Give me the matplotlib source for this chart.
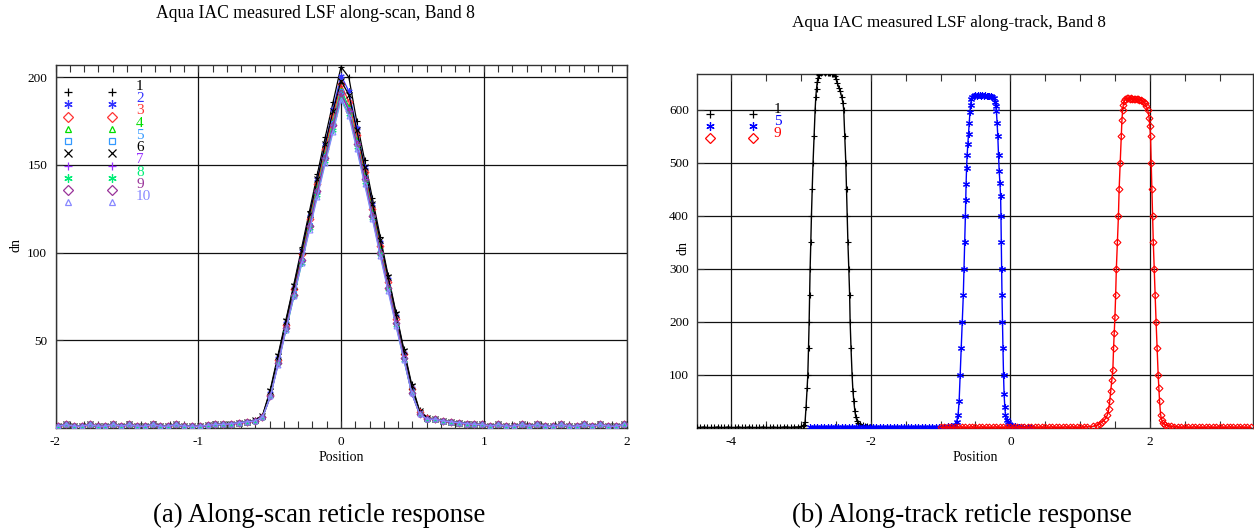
import numpy as np
import matplotlib
matplotlib.use("Agg")
import matplotlib.pyplot as plt
from matplotlib.ticker import MultipleLocator, FixedLocator

plt.rcParams['font.family'] = ['Liberation Serif', 'DejaVu Serif']

# ---------------- Panel (a): along-scan LSF, 10 detectors ----------------
scan_x_core = [-0.605, -0.55, -0.495, -0.44, -0.385, -0.33, -0.275, -0.22, -0.165, -0.11, -0.055, 0.0,
               0.055, 0.11, 0.165, 0.22, 0.275, 0.33, 0.385, 0.44, 0.495, 0.55, 0.605]
scan_x_left_tail = [-1.98, -1.925, -1.87, -1.815, -1.76, -1.705, -1.65, -1.595, -1.54, -1.485, -1.43, -1.375,
                    -1.32, -1.265, -1.21, -1.155, -1.10, -1.045, -0.99, -0.935, -0.88, -0.825, -0.77, -0.715, -0.66]
scan_y_left_tail = [1, 2, 1, 1, 2, 1, 1, 2, 1, 2, 1, 1, 2, 1, 1, 2, 1, 1, 1, 1.5, 2, 2, 2.5, 3, 3.5]
scan_x_right_tail = [0.66, 0.715, 0.77, 0.825, 0.88, 0.935, 0.99, 1.045, 1.10, 1.155, 1.21, 1.265, 1.32, 1.375,
                     1.43, 1.485, 1.54, 1.595, 1.65, 1.705, 1.76, 1.815, 1.87, 1.925, 1.98]
scan_y_right_tail = [5, 4, 3.5, 3, 2.5, 2, 2, 1, 2, 1, 1, 2, 1, 2, 1, 1, 2, 1, 1, 2, 1, 2, 1, 1, 2]

scan_cores = {
    '1':  [4.5, 7, 22, 42, 62, 82, 103, 124, 145, 166, 186, 206, 200, 175, 153, 131, 109, 87, 66, 45, 25, 10, 6],
    '2':  [4, 6.5, 20, 40, 60, 80, 101, 121, 142, 162, 182, 201, 192, 171, 149, 128, 106, 85, 64, 43, 23, 9, 5.5],
    '3':  [4, 6.5, 19, 39, 59, 79, 99, 119, 139, 159, 178, 196, 186, 167, 146, 125, 104, 83, 62, 42, 22, 9, 5.5],
    '4':  [4, 6, 19, 38, 58, 77, 97, 117, 137, 156, 175, 193, 183, 164, 144, 123, 102, 81, 61, 41, 21, 8.5, 5],
    '5':  [4, 6, 18, 38, 57, 77, 96, 116, 136, 155, 174, 192, 182, 163, 143, 122, 101, 81, 60, 40, 21, 8.5, 5],
    '6':  [4.5, 7, 21, 41, 61, 81, 101, 122, 142, 162, 181, 198, 190, 170, 149, 128, 107, 86, 65, 44, 24, 9.5, 5.5],
    '7':  [4, 6, 18, 37, 57, 76, 95, 115, 134, 153, 172, 190, 181, 162, 142, 121, 100, 80, 60, 40, 20, 8, 5],
    '8':  [4, 6, 18, 37, 56, 75, 94, 114, 133, 152, 170, 188, 179, 160, 140, 120, 99, 79, 59, 39, 20, 8, 5],
    '9':  [4, 6, 18, 37, 57, 76, 96, 115, 135, 154, 173, 191, 181, 162, 142, 121, 100, 80, 60, 40, 20, 8, 5],
    '10': [4, 6, 18, 36, 56, 75, 94, 113, 132, 151, 169, 187, 178, 159, 139, 119, 98, 78, 58, 39, 20, 8, 5],
}
scan_labels = ['1', '2', '3', '4', '5', '6', '7', '8', '9', '10']
scan_colors = ['#000000', '#3333ff', '#ff3333', '#00dd00', '#3399ff', '#000000',
               '#9933ff', '#00ee77', '#993399', '#8888ff']
ASTER = (6, 2, 0)
scan_markers = ['+', ASTER, 'D', '^', 's', 'x', '+', ASTER, 'D', '^']

# ---------------- Panel (b): along-track LSF, detectors 1, 5, 9 ----------------
track_labels = ['1', '5', '9']
track_colors = ['#000000', '#0000ff', '#ff0000']
track_markers = ['+', ASTER, 'D']

track1_x = [-4.5, -4.45, -4.4, -4.35, -4.3, -4.25, -4.2, -4.15, -4.1, -4.05, -4.0, -3.95, -3.9, -3.85,
            -3.8, -3.75, -3.7, -3.65, -3.6, -3.55, -3.5, -3.45, -3.4, -3.35, -3.3, -3.25, -3.2, -3.15,
            -3.1, -3.05, -3.0,
            -2.98, -2.96, -2.944, -2.93, -2.915, -2.905, -2.895, -2.886, -2.879, -2.872, -2.862, -2.853,
            -2.842, -2.83, -2.815, -2.80, -2.79, -2.78, -2.77, -2.76, -2.75, -2.74,
            -2.72, -2.70, -2.68, -2.66, -2.64, -2.62, -2.60, -2.58, -2.56, -2.54,
            -2.52, -2.50, -2.48, -2.46, -2.44, -2.42, -2.40, -2.39, -2.375, -2.36, -2.35, -2.34, -2.33,
            -2.317, -2.305, -2.298, -2.285, -2.27, -2.258, -2.245, -2.23, -2.216, -2.20, -2.18, -2.15,
            -2.12, -2.09, -2.06, -2.03, -2.00, -1.97]
track1_y = [1, 1, 2, 1, 1, 1, 2, 1, 1, 2, 1, 1, 2, 1,
            1, 2, 1, 1, 1, 2, 1, 1, 2, 1, 1, 2, 2, 1,
            2, 2, 3,
            3, 6, 12, 40, 75, 100, 150, 200, 250, 300, 350, 400,
            450, 500, 550, 600, 625, 640, 652, 660, 666, 668,
            670, 671, 671, 670, 671, 670, 670, 669, 668, 667,
            664, 658, 650, 642, 635, 625, 612, 600, 550, 500, 450, 400, 350,
            300, 250, 200, 150, 100, 70, 50, 32, 20, 14, 10, 7,
            5, 4, 3, 2, 1, 1]

track5_x = [-2.87, -2.82, -2.77, -2.72, -2.67, -2.62, -2.57, -2.52, -2.47, -2.42, -2.37, -2.32, -2.27,
            -2.22, -2.17, -2.12, -2.07, -2.02, -1.97, -1.92, -1.87, -1.82, -1.77, -1.72, -1.67, -1.62,
            -1.57, -1.52, -1.47, -1.42, -1.37, -1.32, -1.27, -1.22, -1.17, -1.12, -1.07, -1.02,
            -0.95, -0.90, -0.85, -0.80, -0.77, -0.75, -0.735, -0.72, -0.705,
            -0.69, -0.675, -0.665, -0.655, -0.645, -0.64, -0.635, -0.628, -0.62, -0.61, -0.60, -0.59,
            -0.58, -0.57, -0.56, -0.545,
            -0.52, -0.50, -0.48, -0.46, -0.44, -0.42, -0.40, -0.38, -0.36, -0.34, -0.32, -0.30, -0.28,
            -0.26, -0.24,
            -0.22, -0.21, -0.20, -0.19, -0.18, -0.17, -0.16, -0.15, -0.14, -0.135, -0.13, -0.125, -0.12,
            -0.113, -0.106, -0.098, -0.09, -0.08, -0.07, -0.055, -0.04, -0.02, 0.0, 0.03, 0.07, 0.12,
            0.18, 0.25, 0.30]
track5_y = [1, 1, 2, 1, 1, 1, 2, 1, 1, 2, 1, 1, 2,
            1, 1, 2, 1, 1, 1, 2, 1, 1, 2, 1, 1, 1,
            2, 1, 1, 2, 1, 1, 2, 1, 2, 2, 1, 2,
            2, 3, 3, 6, 12, 25, 50, 100, 150,
            200, 250, 300, 350, 400, 430, 460, 490, 515, 535, 555, 575,
            595, 610, 620, 625,
            627, 628, 627, 628, 628, 627, 628, 627, 628, 627, 627, 626, 626,
            624, 622,
            615, 607, 597, 575, 550, 515, 485, 462, 438, 400, 350, 300, 250,
            200, 150, 100, 65, 40, 25, 16, 11, 8, 6, 4, 3, 2,
            2, 1, 1]

track9_x = [-1.0, -0.95, -0.9, -0.85, -0.8, -0.75, -0.7, -0.65, -0.6, -0.55, -0.5, -0.45, -0.4, -0.35,
            -0.3, -0.25, -0.2, -0.15, -0.1, -0.05, 0.0, 0.05, 0.1, 0.15, 0.2, 0.25, 0.3, 0.35, 0.4, 0.45,
            0.5, 0.55, 0.6, 0.65, 0.7, 0.75, 0.8, 0.85, 0.9, 0.95, 1.0, 1.05, 1.1,
            1.18, 1.24, 1.28, 1.32, 1.36, 1.39, 1.41, 1.425, 1.44, 1.455,
            1.47, 1.48, 1.49, 1.50, 1.51, 1.52, 1.535, 1.55, 1.56, 1.575, 1.59, 1.60, 1.61, 1.62, 1.635,
            1.65, 1.67, 1.69, 1.71, 1.73, 1.75, 1.77, 1.79, 1.81, 1.83, 1.85, 1.87, 1.89, 1.91, 1.93,
            1.95, 1.97, 1.99, 2.00, 2.01, 2.02, 2.03, 2.04, 2.05, 2.063, 2.075, 2.09, 2.105, 2.12, 2.13,
            2.14, 2.155, 2.17, 2.19, 2.22, 2.26, 2.30,
            2.35, 2.4, 2.45, 2.5, 2.55, 2.6, 2.65, 2.7, 2.75, 2.8, 2.85, 2.9, 2.95, 3.0, 3.05, 3.1,
            3.15, 3.2, 3.25, 3.3, 3.35, 3.4, 3.45]
track9_y = [1, 1, 2, 1, 1, 1, 2, 1, 1, 2, 1, 1, 2, 1,
            1, 1, 2, 1, 1, 2, 1, 1, 2, 1, 1, 1, 2, 1, 1, 2,
            1, 1, 2, 1, 1, 1, 2, 1, 2, 1, 1, 2, 2,
            3, 5, 8, 12, 17, 24, 35, 50, 70, 90,
            110, 150, 180, 210, 250, 300, 350, 400, 450, 500, 550, 580, 600, 610, 617,
            620, 622, 622, 621, 622, 621, 620, 621, 620, 620, 619, 618, 617, 615, 612,
            607, 600, 585, 570, 550, 500, 450, 400, 350, 300, 250, 200, 150, 100, 75,
            50, 25, 15, 10, 6, 4, 3,
            2, 2, 1, 2, 1, 1, 2, 1, 1, 1, 2, 1, 1, 2, 1, 1,
            2, 1, 1, 2, 1, 1, 1]

track_x = [track1_x, track5_x, track9_x]
track_y = [track1_y, track5_y, track9_y]

# ---------------- Figure ----------------
W, H = 1254, 531
fig = plt.figure(figsize=(W / 100, H / 100), dpi=100)

def fx(px):
    return px / W

def fy(py):
    return 1 - py / H

axL = fig.add_axes([fx(55.5), fy(428), fx(626.5) - fx(55.5), fy(65) - fy(428)])
axR = fig.add_axes([fx(697.3), fy(428), fx(1253) - fx(697.3), fy(74.3) - fy(428)])

tick_fs = 9.5
for ax in (axL, axR):
    for s in ax.spines.values():
        s.set_color('#333333')
        s.set_linewidth(1.0)
    ax.tick_params(which='both', direction='in', top=True, right=False, labelsize=tick_fs,
                   color='#333333', width=0.8, pad=6)
    ax.tick_params(which='major', length=5)
    ax.tick_params(which='minor', length=5)
    ax.grid(True, which='major', color='#111111', linewidth=0.9)
    ax.set_axisbelow(True)

# Panel (a)
for i, lab in enumerate(scan_labels):
    xs = scan_x_left_tail + scan_x_core + scan_x_right_tail
    ys = scan_y_left_tail + scan_cores[lab] + scan_y_right_tail
    axL.plot(xs, ys, color=scan_colors[i], linewidth=0.9, marker=scan_markers[i],
             markersize=3.5 if scan_markers[i] in ('D', 's', '^') else 4.5,
             markerfacecolor='none', markeredgewidth=0.8, zorder=3)

axL.set_xlim(-2, 2)
axL.set_ylim(0, 207)
axL.xaxis.set_major_locator(FixedLocator([-2, -1, 0, 1, 2]))
axL.xaxis.set_minor_locator(MultipleLocator(0.1))
axL.yaxis.set_major_locator(FixedLocator([50, 100, 150, 200]))
axL.set_xticklabels(['-2', '-1', '0', '1', '2'])
axL.set_xlabel('Position', fontsize=10)
axL.xaxis.set_label_coords(0.5, -0.062)
axL.set_ylabel('dn', fontsize=10)
axL.yaxis.set_label_coords(-0.058, 0.505)

# legend (a)
rowsL = [0.925 - 0.0337 * i for i in range(10)]
for i, lab in enumerate(scan_labels):
    ms = 5.0 if scan_markers[i] in ('D', 's', '^') else 6.0
    for cx in (0.0224, 0.0995):
        axL.plot([cx], [rowsL[i]], transform=axL.transAxes, marker=scan_markers[i], color=scan_colors[i],
                 markersize=ms, markerfacecolor='none', markeredgewidth=0.9, linestyle='none', zorder=4)
    axL.text(0.141, rowsL[i] + 0.016, lab, transform=axL.transAxes, color=scan_colors[i],
             fontsize=11, ha='left', va='center', zorder=4)

# Panel (b)
for i in range(3):
    ms = 3.5 if track_markers[i] == 'D' else 5.0
    axR.plot(track_x[i], track_y[i], color=track_colors[i], linewidth=1.0, marker=track_markers[i],
             markersize=ms, markerfacecolor='none', markeredgewidth=0.8, zorder=3)

axR.set_xlim(-4.49, 3.48)
axR.set_ylim(0, 667)
axR.xaxis.set_major_locator(FixedLocator([-4, -2, 0, 2]))
axR.xaxis.set_minor_locator(MultipleLocator(0.5))
axR.yaxis.set_major_locator(FixedLocator([100, 200, 300, 400, 500, 600]))
axR.set_xticklabels(['-4', '-2', '0', '2'])
axR.set_xlabel('Position', fontsize=10)
axR.xaxis.set_label_coords(0.5, -0.064)
axR.set_ylabel('dn', fontsize=10)
axR.yaxis.set_label_coords(-0.014, 0.51)

rowsR = [0.887, 0.853, 0.82]
for i, lab in enumerate(track_labels):
    ms = 5.0 if track_markers[i] == 'D' else 6.0
    for cx in (0.0229, 0.0997):
        axR.plot([cx], [rowsR[i]], transform=axR.transAxes, marker=track_markers[i], color=track_colors[i],
                 markersize=ms, markerfacecolor='none', markeredgewidth=0.9, linestyle='none', zorder=4)
    axR.text(0.138, rowsR[i] + 0.013, lab, transform=axR.transAxes, color=track_colors[i],
             fontsize=11, ha='left', va='center', zorder=4)

# Titles and captions
fig.text(fx(315), fy(13), 'Aqua IAC measured LSF along-scan, Band 8', ha='center', va='center', fontsize=12.7)
fig.text(fx(949), fy(23), 'Aqua IAC measured LSF along-track, Band 8', ha='center', va='center', fontsize=12.3)
fig.text(fx(319), fy(515), '(a) Along-scan reticle response', ha='center', va='center', fontsize=19.3)
fig.text(fx(962), fy(515), '(b) Along-track reticle response', ha='center', va='center', fontsize=19.3)

fig.savefig('out.png', dpi=100, facecolor='white')
